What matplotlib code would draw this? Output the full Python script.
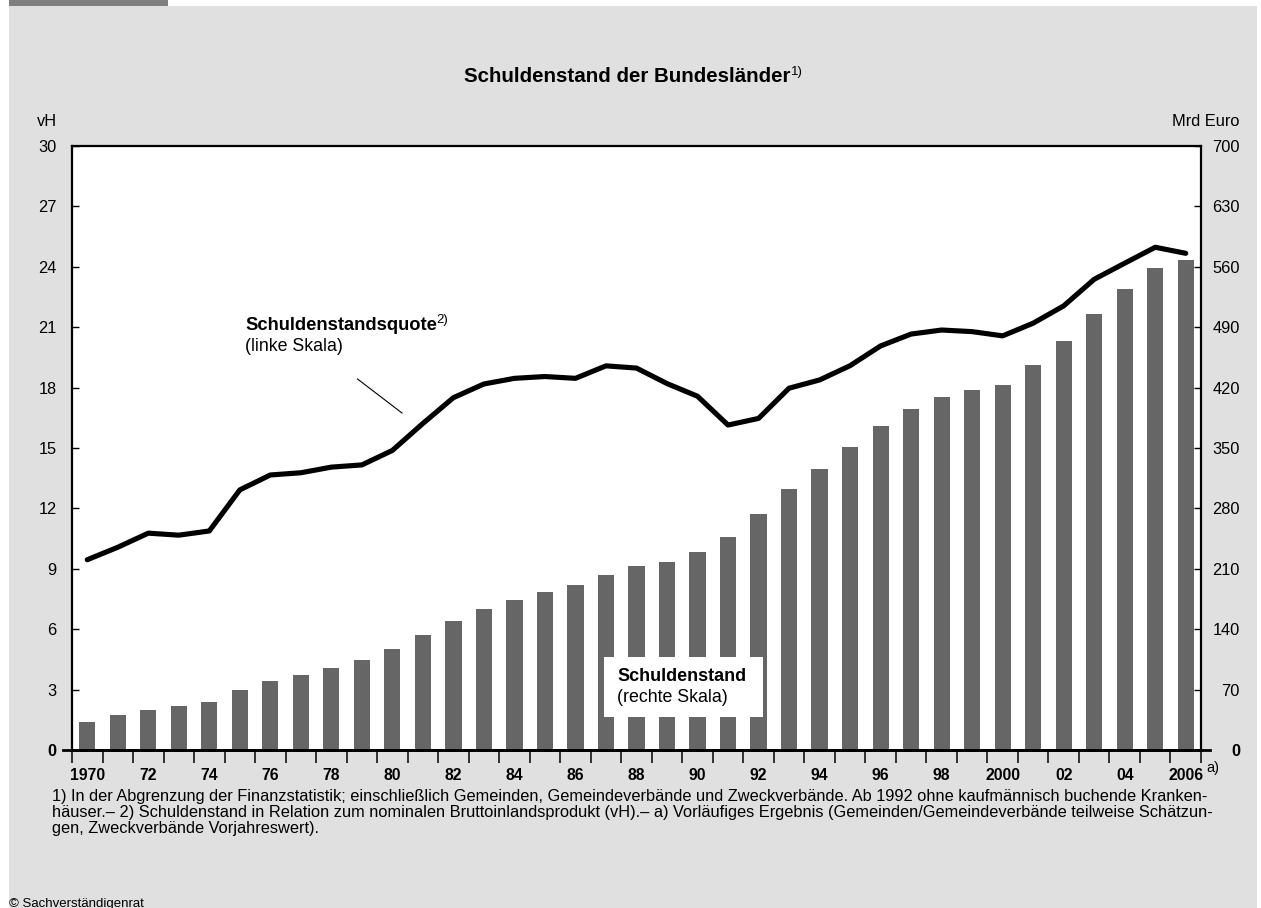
import matplotlib
matplotlib.use('Agg')
import matplotlib.pyplot as plt
from matplotlib.patches import Rectangle
from matplotlib.lines import Line2D

plt.rcParams['font.family'] = ['Liberation Sans', 'DejaVu Sans']

# ---------------- data ----------------
years = list(range(1970, 2007))
# Schuldenstandsquote (vH, linke Skala)
quote = [9.45, 10.07, 10.77, 10.67, 10.88, 12.92, 13.66, 13.77, 14.05, 14.16,
         14.88, 16.22, 17.5, 18.18, 18.46, 18.55, 18.46, 19.08, 18.97, 18.2,
         17.57, 16.14, 16.47, 17.97, 18.38, 19.09, 20.07, 20.66, 20.86, 20.78,
         20.57, 21.2, 22.06, 23.38, 24.18, 24.97, 24.67]
# Schuldenstand (Mrd Euro, rechte Skala)
debt = [33, 40, 46, 50.5, 56, 70, 80.5, 86.5, 94.5, 104,
        116.5, 133, 149, 163, 173.5, 183, 191, 202.5, 213, 217.5,
        229, 247, 273, 303, 326, 351, 375.5, 395, 409, 417,
        423, 446, 474, 505, 534, 558.5, 568]
left_ticks = list(range(0, 31, 3))
right_ticks = list(range(0, 701, 70))
label_years = list(range(1970, 2007, 2))
year_labels = ['1970', '72', '74', '76', '78', '80', '82', '84', '86', '88',
               '90', '92', '94', '96', '98', '2000', '02', '04', '2006']

title = 'Schuldenstand der Bundesländer'
footnotes = [
    '1) In der Abgrenzung der Finanzstatistik; einschließlich Gemeinden, Gemeindeverbände und Zweckverbände. Ab 1992 ohne kaufmännisch buchende Kranken-',
    'häuser.– 2) Schuldenstand in Relation zum nominalen Bruttoinlandsprodukt (vH).– a) Vorläufiges Ergebnis (Gemeinden/Gemeindeverbände teilweise Schätzun-',
    'gen, Zweckverbände Vorjahreswert).',
]

# ---------------- figure ----------------
W, H = 1261, 908
fig = plt.figure(figsize=(W / 100, H / 100), dpi=100)
fig.patch.set_facecolor('white')


def fx(p):
    return p / W


def fy(p):
    return 1 - p / H


fig.add_artist(Rectangle((fx(9), 0), fx(1257) - fx(9), fy(6), transform=fig.transFigure,
                         facecolor='#e0e0e0', edgecolor='none', zorder=-10))
fig.add_artist(Rectangle((fx(9), fy(6)), fx(168) - fx(9), 1 - fy(6), transform=fig.transFigure,
                         facecolor='#7f7f7f', edgecolor='none', zorder=-10))

ax = fig.add_axes([fx(72), fy(750), fx(1201) - fx(72), fy(146) - fy(750)])
ax2 = ax.twinx()
ax.set_zorder(ax2.get_zorder() + 1)
ax.patch.set_visible(False)
ax2.patch.set_visible(True)
ax2.patch.set_facecolor('white')

ax2.bar(years, debt, width=0.53, color='#666666', zorder=2)
ax.plot(years, quote, color='black', lw=3.7, solid_capstyle='round',
        solid_joinstyle='round', zorder=3)

ax.set_xlim(years[0] - 0.5, years[-1] + 0.5)
ax.set_ylim(left_ticks[0], left_ticks[-1])
ax2.set_ylim(right_ticks[0], right_ticks[-1])

for s in ax.spines.values():
    s.set_linewidth(1.6)
    s.set_color('black')
ax.spines['bottom'].set_linewidth(2.0)
for s in ax2.spines.values():
    s.set_visible(False)

# y ticks
ax.set_yticks(left_ticks)
ax.set_yticklabels([str(v) for v in left_ticks])
ax.tick_params(axis='y', direction='in', length=5, width=1, pad=11, labelsize=11.8)
ax2.set_yticks(right_ticks)
ax2.set_yticklabels([str(v) for v in right_ticks])
ax2.tick_params(axis='y', direction='in', length=5, width=1, pad=28, labelsize=11.8)
for t in ax2.yaxis.get_major_ticks():
    t.label2.set_horizontalalignment('right')
ax.yaxis.get_major_ticks()[0].label1.set_fontweight('bold')
ax2.yaxis.get_major_ticks()[0].label2.set_fontweight('bold')

# x ticks: marks at year boundaries, labels at year centres
bounds = [y - 0.5 for y in years] + [years[-1] + 0.5]
ax.set_xticks(bounds)
ax.tick_params(axis='x', which='major', direction='out', length=9.5, width=1.1,
               labelbottom=False)
ax.set_xticks(label_years, minor=True)
ax.set_xticklabels(year_labels, minor=True, fontweight='bold', fontsize=11.3)
ax.tick_params(axis='x', which='minor', length=0, pad=13)

# zero line extending beyond frame
ax.add_line(Line2D([-0.008, 1.008], [0, 0], transform=ax.transAxes, color='black',
                   lw=2.0, clip_on=False, zorder=5))

# ---------------- texts ----------------
t = fig.text(fx(627), fy(82), title, ha='center', va='baseline', fontsize=14.8,
             fontweight='bold')
fig.canvas.draw()
bb = t.get_window_extent()
fig.text(bb.x1 / W + fx(1), fy(75), '1)', ha='left', va='baseline', fontsize=9.5)

fig.text(fx(57), fy(121), 'vH', ha='right', va='center', fontsize=11.8)
fig.text(fx(1240), fy(121), 'Mrd Euro', ha='right', va='center', fontsize=11.8)
fig.text(fx(1206), fy(768), 'a)', ha='left', va='center', fontsize=10.5)

# line label
t2 = fig.text(fx(245), fy(330), 'Schuldenstandsquote', ha='left', va='baseline',
              fontsize=13.2, fontweight='bold')
fig.canvas.draw()
bb2 = t2.get_window_extent()
fig.text(bb2.x1 / W - fx(1), fy(323), '2)', ha='left', va='baseline', fontsize=9.5)
fig.text(fx(245), fy(351), '(linke Skala)', ha='left', va='baseline', fontsize=12.8)
fig.add_artist(Line2D([fx(357.5), fx(402)], [fy(379), fy(413)], transform=fig.transFigure,
                      color='black', lw=0.8))

# bar label box
fig.add_artist(Rectangle((fx(604), fy(717)), fx(763) - fx(604), fy(657) - fy(717),
                         transform=fig.transFigure, facecolor='white', edgecolor='none',
                         zorder=20))
fig.text(fx(617), fy(681), 'Schuldenstand', ha='left', va='baseline', fontsize=13,
         fontweight='bold', zorder=21)
fig.text(fx(617), fy(702), '(rechte Skala)', ha='left', va='baseline', fontsize=12.8,
         zorder=21)

# footnotes
for i, line in enumerate(footnotes):
    fig.text(fx(52), fy(801 + 16 * i), line, ha='left', va='baseline', fontsize=11.75)

fig.text(fx(9), fy(907), '© Sachverständigenrat', ha='left', va='baseline', fontsize=9.5)

fig.savefig('out.png', dpi=100, facecolor=fig.get_facecolor())
